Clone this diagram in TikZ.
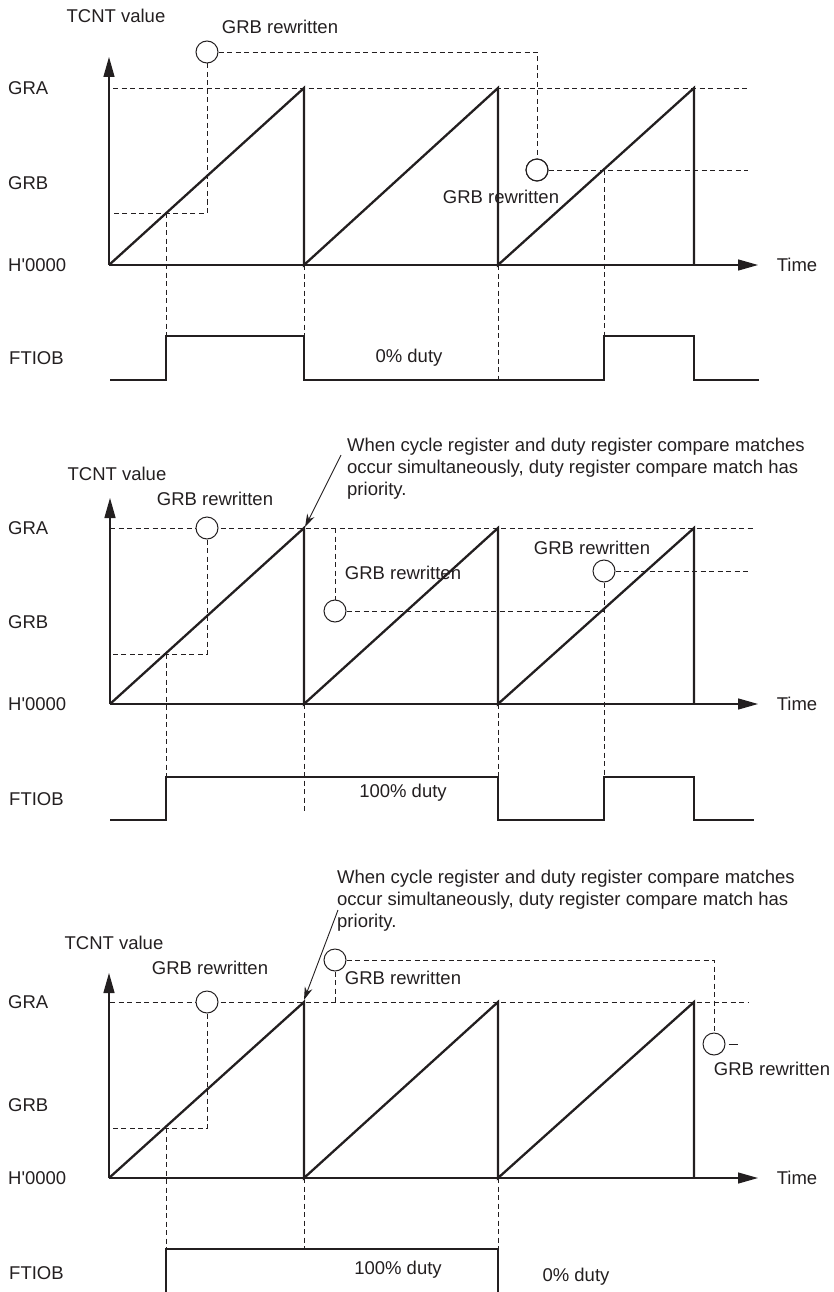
\documentclass[tikz,border=0pt]{standalone}
\usepackage{fontspec}
\setmainfont{Liberation Sans}
\usepackage{tikz}
\usetikzlibrary{arrows.meta, positioning}
\definecolor{inkblk}{HTML}{231F20}

\begin{document}
\begin{tikzpicture}[x=1pt, y=-1pt, inkblk,
    wave/.style={line width=2.3pt, line join=miter},
    axis/.style={line width=1.3pt, -{Triangle[length=20pt, width=11pt]}},
    guide/.style={line width=0.9pt, dash pattern=on 5pt off 3.5pt},
    wcirc/.style={circle, draw, fill=white, line width=1pt, minimum size=22pt, inner sep=0pt},
    lbl/.style={font=\fontsize{18.5}{22}\selectfont, inner sep=0pt},
    note/.style={lbl, align=left, anchor=north west},
    pointer/.style={line width=0.9pt, -{Stealth[length=13pt, width=8pt]}},
]
    \path[use as bounding box] (0,0) rectangle (833,1292);

    % ---------- panel 1: 0% duty ----------
    \node[lbl] (tv1) at (116,16) {TCNT value};
    \node[lbl, anchor=west] (ya1) at (8,88) {GRA};
    \node[lbl, anchor=west] (yb1) at (8,183) {GRB};
    \node[lbl, anchor=west] (yz1) at (8,265) {H\textquotesingle 0000};
    \node[lbl] (tm1) at (797,265) {Time};
    \node[lbl, anchor=west] (ft1) at (9,358) {FTIOB};

    \draw[guide] (113,88) -- (748,88);
    \node[wcirc] (c11) at (207,52) {};
    \node[wcirc] (c12) at (537,170) {};
    \node[lbl] (r11) at (280,27) {GRB rewritten};
    \node[lbl] (r12) at (501,197) {GRB rewritten};
    \draw[guide] (c11.east) -- (537,52) -- (c12.north);
    \draw[guide] (c12.east) -- (748,170);
    \draw[guide] (c11.south) -- (207,213) -- (113,213);
    \draw[guide] (166,213) -- (166,336);
    \draw[guide] (304,265) -- (304,336);
    \draw[guide] (498,265) -- (498,380);
    \draw[guide] (604,170) -- (604,336);
    \node[wcirc, fill=none] at (c12) {};

    \draw[axis] (109,265) -- (109,57);
    \draw[axis] (109,265) -- (758,265);
    \draw[wave] (109,265) -- (304,88) -- (304,265) -- (498,88) -- (498,265) -- (694,88) -- (694,265);
    \draw[wave] (110,380) -- (166,380) -- (166,336) -- (304,336) -- (304,380) -- (604,380)
        -- (604,336) -- (694,336) -- (694,380) -- (759,380);
    \node[lbl] (dy1) at (409,358) {0\% duty};

    % ---------- panel 2: 100% duty ----------
    \node[note] (nt2) at (347,438) {When cycle register and duty register compare matches\\
        occur simultaneously, duty register compare match has\\ priority.};
    \node[lbl] (tv2) at (117,474) {TCNT value};
    \node[lbl, anchor=west] (ya2) at (8,528) {GRA};
    \node[lbl, anchor=west] (yb2) at (8,622) {GRB};
    \node[lbl, anchor=west] (yz2) at (8,704) {H\textquotesingle 0000};
    \node[lbl] (tm2) at (797,704) {Time};
    \node[lbl, anchor=west] (ft2) at (9,799) {FTIOB};

    \draw[guide] (110,528) -- (753,528);
    \node[wcirc] (c21) at (207,528) {};
    \node[wcirc] (c22) at (335,611) {};
    \node[wcirc] (c23) at (604,571) {};
    \node[lbl] (r21) at (215,499) {GRB rewritten};
    \node[lbl] (r22) at (403,573) {GRB rewritten};
    \node[lbl] (r23) at (592,548) {GRB rewritten};
    \draw[guide] (c21.south) -- (207,654) -- (110,654);
    \draw[guide] (166,654) -- (166,777);
    \draw[guide] (335,528) -- (c22.north);
    \draw[guide] (c22.east) -- (604,611);
    \draw[guide] (c23.east) -- (748,571);
    \draw[guide] (c23.south) -- (604,777);
    \draw[guide] (304,704) -- (304,813);
    \draw[guide] (498,704) -- (498,777);

    \draw[axis] (110,704) -- (110,498);
    \draw[axis] (110,704) -- (758,704);
    \draw[wave] (110,704) -- (304,528) -- (304,704) -- (498,528) -- (498,704) -- (694,528) -- (694,704);
    \draw[wave] (110,820) -- (166,820) -- (166,777) -- (498,777) -- (498,820) -- (604,820)
        -- (604,777) -- (694,777) -- (694,820) -- (754,820);
    \node[lbl] (dy2) at (403,793) {100\% duty};
    \coordinate (hit2) at (305,527);
    \draw[pointer] (341,455) -- (hit2);

    % ---------- panel 3: 100% then 0% duty ----------
    \node[note] (nt3) at (337,870) {When cycle register and duty register compare matches\\
        occur simultaneously, duty register compare match has\\ priority.};
    \node[lbl] (tv3) at (114,943) {TCNT value};
    \node[lbl, anchor=west] (ya3) at (8,1002) {GRA};
    \node[lbl, anchor=west] (yb3) at (8,1105) {GRB};
    \node[lbl, anchor=west] (yz3) at (8,1178) {H\textquotesingle 0000};
    \node[lbl] (tm3) at (797,1178) {Time};
    \node[lbl, anchor=west] (ft3) at (9,1273) {FTIOB};

    \draw[guide] (110,1002) -- (748,1002);
    \node[wcirc] (c31) at (207,1002) {};
    \node[wcirc] (c32) at (335,960) {};
    \node[wcirc] (c33) at (714,1044) {};
    \node[lbl] (r31) at (210,968) {GRB rewritten};
    \node[lbl] (r32) at (403,978) {GRB rewritten};
    \node[lbl] (r33) at (772,1069) {GRB rewritten};
    \draw[guide] (c31.south) -- (207,1128) -- (110,1128);
    \draw[guide] (166,1128) -- (166,1249);
    \draw[guide] (c32.east) -- (714,960) -- (c33.north);
    \draw[guide] (c32.south) -- (335,1002);
    \draw[line width=0.9pt] ([xshift=3pt]c33.east) -- ++(9,0);
    \draw[guide] (304,1178) -- (304,1249);
    \draw[guide] (498,1178) -- (498,1249);

    \draw[axis] (109,1178) -- (109,973);
    \draw[axis] (109,1178) -- (758,1178);
    \draw[wave] (109,1178) -- (304,1002) -- (304,1178) -- (498,1002) -- (498,1178) -- (694,1002) -- (694,1178);
    \draw[wave] (166,1295) -- (166,1249) -- (498,1249) -- (498,1295);
    \node[lbl] (dy3) at (398,1270) {100\% duty};
    \node[lbl] (dz3) at (576,1277) {0\% duty};
    \coordinate (hit3) at (304,1000);
    \draw[pointer] (338,910) -- (hit3);
\end{tikzpicture}
\end{document}
